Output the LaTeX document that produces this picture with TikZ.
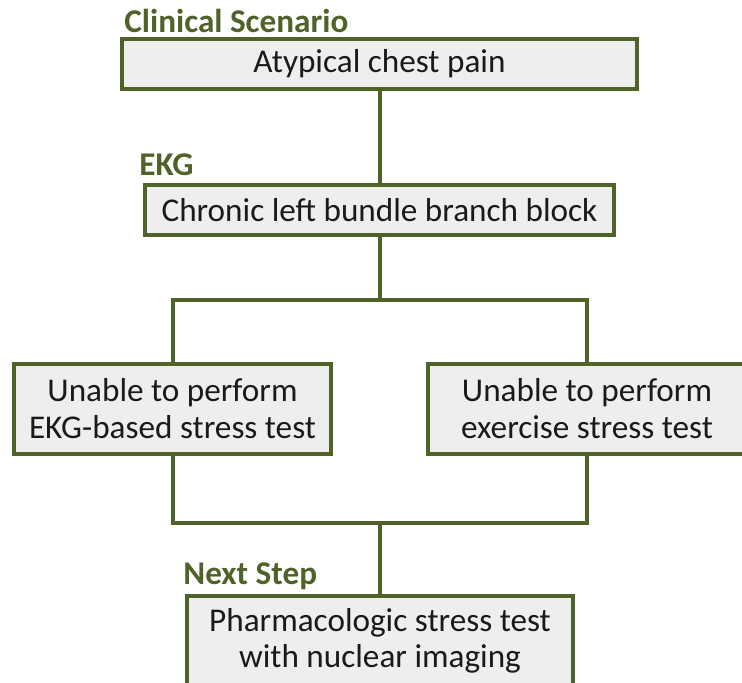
\documentclass[tikz,border=0pt]{standalone}
\usepackage{fontspec}
\setmainfont{Carlito}
\definecolor{olive}{HTML}{4F6228}
\definecolor{boxfill}{HTML}{EEEEEE}
\definecolor{txt}{HTML}{1A1A1A}
\begin{document}
\begin{tikzpicture}[x=0.5pt,y=-0.5pt,
  box/.style={draw=olive, fill=boxfill, line width=2pt, inner sep=0pt, align=center,
    text=txt, font=\fontsize{16.6}{18.5}\selectfont},
  lbl/.style={anchor=base west, inner sep=0pt, text=olive, font=\fontsize{16.6}{18}\selectfont\bfseries},
  conn/.style={draw=olive, line width=2pt}]
\useasboundingbox (0,0) rectangle (742,682);
\clip (0,0) rectangle (742,682);
\node[box, minimum width=257.5pt, minimum height=25pt] (b1) at (379.5,64) {Atypical chest pain};
\node[box, minimum width=234.5pt, minimum height=25pt] (b2) at (379.5,210) {Chronic left bundle branch block};
\node[box, minimum width=158.5pt, minimum height=45pt] (b3l) at (172.5,409) {Unable to perform\\EKG-based stress test};
\node[box, minimum width=159pt, minimum height=45pt] (b3r) at (587,409) {Unable to perform\\exercise stress test};
\node[box, minimum width=193pt, minimum height=45pt, font=\fontsize{16.6}{18}\selectfont] (b4) at (380,641) {Pharmacologic stress test\\with nuclear imaging};
\node[lbl] (l1) at (124,32) {Clinical Scenario};
\node[lbl] (l2) at (139,175) {EKG};
\node[lbl] (l3) at (183,584) {Next Step};
\coordinate (j1) at (379.5,300);
\coordinate (j1l) at (172.5,300);
\coordinate (j1r) at (587,300);
\coordinate (j2) at (380,523);
\coordinate (j2l) at (172.5,523);
\coordinate (j2r) at (587,523);
\draw[conn] (b1.south) -- (b2.north);
\draw[conn] (b2.south) -- (j1);
\draw[conn, line cap=rect] (b3l.north) -- (j1l) -- (j1r) -- (b3r.north);
\draw[conn, line cap=rect] (b3l.south) -- (j2l) -- (j2r) -- (b3r.south);
\draw[conn] (j2) -- (b4.north);
\end{tikzpicture}
\end{document}
